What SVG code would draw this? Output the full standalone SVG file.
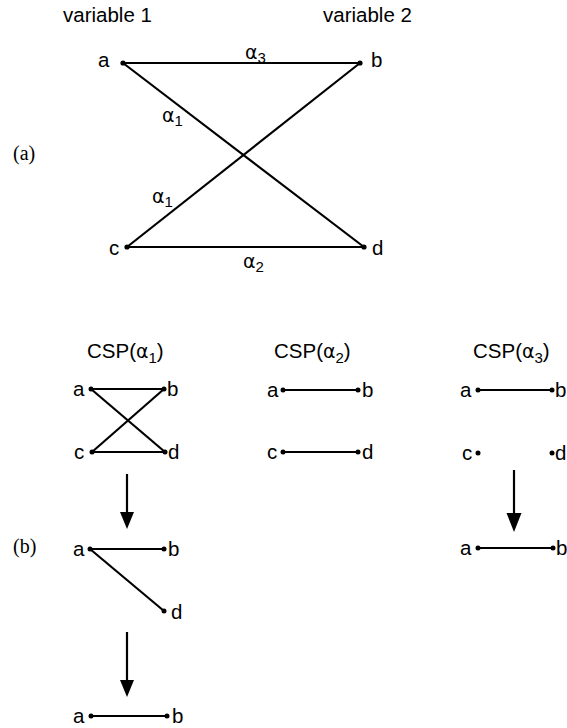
<svg xmlns="http://www.w3.org/2000/svg" width="567" height="728" viewBox="0 0 567 728">
<style>
text{font-family:"Liberation Sans",Arial,sans-serif;font-size:20.5px;fill:#000}
.g{font-family:"DejaVu Sans","Liberation Sans",sans-serif;font-size:19px}
.s{font-family:"Liberation Sans",Arial,sans-serif;font-size:15px}
.lbl{font-family:"Liberation Serif","Times New Roman",serif;font-size:20px}
line{stroke:#000;stroke-width:2.2}
circle{fill:#000}
.ah{fill:#000}
</style>
<rect width="567" height="728" fill="#fff"/>
<g id="headers">
<text x="63" y="22">variable 1</text>
<text x="323" y="22">variable 2</text>
<text class="lbl" x="13" y="160">(a)</text>
<text class="lbl" x="13" y="553">(b)</text>
</g>
<g id="connectors">
<line x1="123" y1="63" x2="360" y2="63"/>
<line x1="123" y1="63" x2="364" y2="247"/>
<line x1="360" y1="63" x2="127" y2="247"/>
<line x1="127" y1="247" x2="364" y2="247"/>
<line x1="91" y1="389" x2="164" y2="389"/>
<line x1="92" y1="452" x2="165" y2="452"/>
<line x1="91" y1="389" x2="165" y2="452"/>
<line x1="164" y1="389" x2="92" y2="452"/>
<line x1="283" y1="390" x2="358" y2="390"/>
<line x1="283" y1="452" x2="358" y2="452"/>
<line x1="478" y1="390" x2="552" y2="390"/>
<line x1="90" y1="549" x2="164" y2="549"/>
<line x1="90" y1="549" x2="164" y2="611"/>
<line x1="91" y1="716" x2="167" y2="716"/>
<line x1="478" y1="548" x2="553" y2="548"/>
<line x1="127" y1="474" x2="127" y2="513"/>
<polygon class="ah" points="120,512 134,512 127,529"/>
<line x1="127" y1="632" x2="127" y2="681"/>
<polygon class="ah" points="120,680 134,680 127,697"/>
<line x1="514" y1="470" x2="514" y2="514"/>
<polygon class="ah" points="506.5,513 521.5,513 514,532"/>
</g>
<g id="edge-labels">
<text x="245" y="59"><tspan class="g">α</tspan><tspan class="s" dy="4">3</tspan></text>
<text x="162" y="122"><tspan class="g">α</tspan><tspan class="s" dy="4">1</tspan></text>
<text x="152" y="203"><tspan class="g">α</tspan><tspan class="s" dy="4">1</tspan></text>
<text x="243" y="268"><tspan class="g">α</tspan><tspan class="s" dy="4">2</tspan></text>
</g>
<g id="node-a-top"><circle cx="123" cy="63" r="2.6"/><text x="98" y="67">a</text></g>
<g id="node-b-top"><circle cx="360" cy="63" r="2.6"/><text x="371" y="67">b</text></g>
<g id="node-c-top"><circle cx="127" cy="247" r="2.6"/><text x="109" y="255">c</text></g>
<g id="node-d-top"><circle cx="364" cy="247" r="2.6"/><text x="372" y="255">d</text></g>
<g id="csp1">
<text x="87" y="358">CSP(<tspan class="g">α</tspan><tspan class="s" dy="5">1</tspan><tspan dy="-5">)</tspan></text>
<circle cx="91" cy="389" r="2.5"/><text x="73" y="396">a</text>
<circle cx="164" cy="389" r="2.5"/><text x="167" y="396">b</text>
<circle cx="92" cy="452" r="2.5"/><text x="74" y="459">c</text>
<circle cx="165" cy="452" r="2.5"/><text x="168" y="459">d</text>
</g>
<g id="csp2">
<text x="274" y="358">CSP(<tspan class="g">α</tspan><tspan class="s" dy="5">2</tspan><tspan dy="-5">)</tspan></text>
<circle cx="283" cy="390" r="2.5"/><text x="267" y="397">a</text>
<circle cx="358" cy="390" r="2.5"/><text x="362" y="397">b</text>
<circle cx="283" cy="452" r="2.5"/><text x="267" y="459">c</text>
<circle cx="358" cy="452" r="2.5"/><text x="362" y="459">d</text>
</g>
<g id="csp3">
<text x="473" y="358">CSP(<tspan class="g">α</tspan><tspan class="s" dy="5">3</tspan><tspan dy="-5">)</tspan></text>
<circle cx="478" cy="390" r="2.5"/><text x="460" y="397">a</text>
<circle cx="552" cy="390" r="2.5"/><text x="555" y="397">b</text>
<circle cx="478" cy="453" r="2.5"/><text x="462" y="460">c</text>
<circle cx="552" cy="453" r="2.5"/><text x="555" y="460">d</text>
</g>
<g id="step1">
<circle cx="90" cy="549" r="2.5"/><text x="73" y="556">a</text>
<circle cx="164" cy="549" r="2.5"/><text x="168" y="556">b</text>
<circle cx="164" cy="611" r="2.5"/><text x="171" y="619">d</text>
</g>
<g id="step2">
<circle cx="91" cy="716" r="2.5"/><text x="73" y="723">a</text>
<circle cx="167" cy="716" r="2.5"/><text x="172" y="723">b</text>
</g>
<g id="step3">
<circle cx="478" cy="548" r="2.5"/><text x="460" y="555">a</text>
<circle cx="553" cy="548" r="2.5"/><text x="556" y="555">b</text>
</g>
</svg>
